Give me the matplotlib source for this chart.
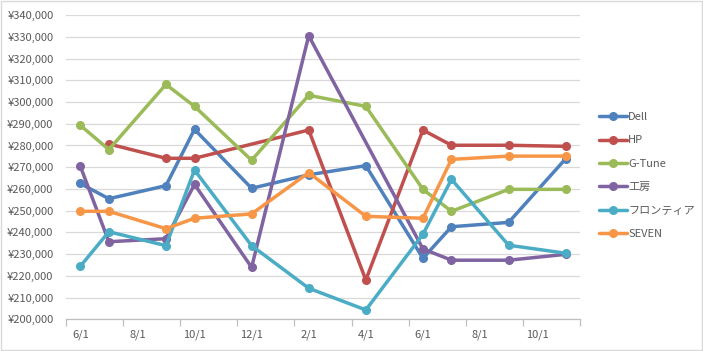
import matplotlib.pyplot as plt
from matplotlib.patches import Rectangle
from matplotlib.ticker import FuncFormatter

plt.rcParams['font.family'] = ['Noto Sans CJK JP', 'DejaVu Sans']

# survey dates (one price per vendor per date, None = no data)
dates = ['2015/6/1', '2015/7/1', '2015/9/1', '2015/10/1', '2015/12/1', '2016/2/1',
         '2016/4/1', '2016/6/1', '2016/7/1', '2016/9/1', '2016/11/1']

dell = [262500, 255500, 261500, 287400, 260300, 266500, 270700, 228100, 242600, 244600, 273900]
hp = [None, 280700, 274100, 274100, None, 287100, 218100, 287100, 280100, 280100, 279600]
gtune = [289300, 278100, 308100, 298000, 273200, 303100, 298000, 259800, 249700, 259800, 259800]
koubou = [270500, 235700, 237100, 262100, 223900, 330500, None, 232400, 227200, 227200, 229900]
frontier = [224400, 240300, 233900, 268700, 233900, 214300, 204300, 239100, 264400, 234100, 230400]
seven = [249700, 249700, 241700, 246500, 248500, 267500, 247400, 246500, 273600, 275100, 275100]

series = [
    ('Dell', dell, '#4F81BD'),
    ('HP', hp, '#C0504D'),
    ('G-Tune', gtune, '#9BBB59'),
    ('工房', koubou, '#8064A2'),
    ('フロンティア', frontier, '#4BACC6'),
    ('SEVEN', seven, '#F79646'),
]


def month_index(d):
    y, m, _ = d.split('/')
    return (int(y) - 2015) * 12 + int(m) - 6


months = [month_index(d) for d in dates]

fig = plt.figure(figsize=(7.03, 3.51), dpi=100)
ax = fig.add_axes([0.0939, 0.0903, 0.7311, 0.8667])

for name, vals, color in series:
    xs = [m for m, v in zip(months, vals) if v is not None]
    ys = [v for v in vals if v is not None]
    ax.plot(xs, ys, color=color, lw=2.5, marker='o', ms=5.5, label=name,
            solid_capstyle='round', solid_joinstyle='round')

ax.set_xlim(-0.5, 17.5)
ax.set_ylim(200000, 340000)
ax.set_yticks(range(200000, 340001, 10000))
ax.yaxis.set_major_formatter(FuncFormatter(lambda v, p: '¥{:,.0f}'.format(v)))
ax.grid(axis='y', color='#D9D9D9', lw=0.9)
ax.set_axisbelow(True)

# Excel-style date axis: tick marks between months, labels on months
ax.set_xticks([i - 0.5 for i in range(0, 19, 2)])
ax.set_xticklabels([])
ax.set_xticks(range(0, 17, 2), minor=True)
ax.set_xticklabels(['6/1', '8/1', '10/1', '12/1', '2/1', '4/1', '6/1', '8/1', '10/1'], minor=True)
ax.tick_params(axis='x', which='major', length=5, color='#BFBFBF', width=0.9)
ax.tick_params(axis='x', which='minor', length=0, pad=7, labelsize=8, labelcolor='#595959')
ax.tick_params(axis='y', length=0, pad=9, labelsize=8, labelcolor='#595959')

for s in ['top', 'right', 'left']:
    ax.spines[s].set_visible(False)
ax.spines['bottom'].set_color('#BFBFBF')
ax.spines['bottom'].set_linewidth(0.9)

leg = fig.legend(loc='center left', bbox_to_anchor=(0.838, 0.5), frameon=False,
                 fontsize=8, labelspacing=1.2, handlelength=2.5, handletextpad=0.1)
for t in leg.get_texts():
    t.set_color('#595959')

fig.patches.append(Rectangle((0.001, 0.002), 0.997, 0.995, transform=fig.transFigure,
                             fill=False, edgecolor='#D9D9D9', lw=1))

fig.savefig('out.png', dpi=100)
